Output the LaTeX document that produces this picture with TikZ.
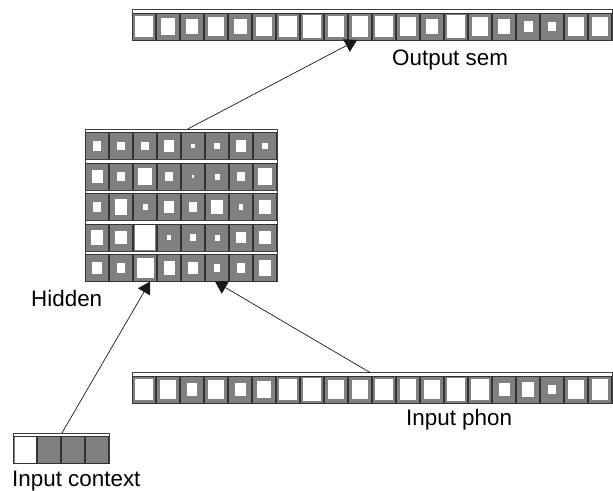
\documentclass[tikz,border=0pt]{standalone}
\usepackage{fontspec}
\setmainfont{Liberation Sans}
\usetikzlibrary{arrows.meta,calc}
\tikzset{
  barbox/.style={draw=black!75, line width=0.8pt, fill=white, inner sep=0pt, outer sep=0pt, minimum height=30.5pt, anchor=north west},
  cellbox/.style={draw=black!80, line width=0.8pt, fill=black!50, inner sep=0pt, outer sep=0pt, minimum width=22.5pt, minimum height=27pt, anchor=north west},
  conn/.style={draw=black!90, line width=0.7pt, -{Triangle[length=12pt,width=14pt]}},
  lbl/.style={font=\fontsize{22.4}{26}\selectfont, text=black, inner sep=0pt, anchor=base west},
}
\newcommand\cellrow[5]{%
  \node[barbox, minimum width=#4*24pt] (#1) at (#2,#3) {};
  \foreach \f [count=\i] in {#5}{%
    \node[cellbox] (#1-\i) at ({#2+0.75+(\i-1)*24},{#3+3.5}) {};
    \fill[white] ([shift={(-\f*10pt,-\f*12pt)}]#1-\i.center) rectangle ([shift={(\f*10pt,\f*12pt)}]#1-\i.center);
  }%
}
\begin{document}
\begin{tikzpicture}[x=1pt,y=-1pt]
\useasboundingbox (0,0) rectangle (613,490);
% output layer
\cellrow{outsem}{132}{9.5}{20}{0.87,0.74,0.6,0.82,0.65,0.8,0.87,0.92,0.84,0.84,0.89,0.82,0.62,0.92,0.82,0.6,0.45,0.4,0.82,0.82}
% hidden layer
\cellrow{h1}{85}{129}{8}{0.43,0.36,0.36,0.47,0.16,0.27,0.52,0.27}
\cellrow{h2}{85}{159.5}{8}{0.55,0.38,0.72,0.38,0.13,0.25,0.38,0.7}
\cellrow{h3}{85}{190}{8}{0.43,0.63,0.25,0.47,0.42,0.58,0.23,0.6}
\cellrow{h4}{85}{220.5}{8}{0.62,0.58,1.02,0.22,0.28,0.25,0.47,0.58}
\cellrow{h5}{85}{251}{8}{0.52,0.38,0.85,0.55,0.47,0.33,0.38,0.63}
% input phon
\cellrow{phon}{132}{372.5}{20}{0.9,0.77,0.52,0.77,0.55,0.74,0.87,0.92,0.77,0.82,0.9,0.84,0.8,0.92,0.9,0.55,0.6,0.38,0.82,0.84}
% input context
\cellrow{ctx}{13}{433}{4}{1.05,0,0,0}
% labels
\node[lbl] (lout) at (392,65.5) {Output sem};
\node[lbl] (lhid) at (31,306.5) {Hidden};
\node[lbl] (lphon) at (406,425) {Input phon};
\node[lbl] (lctx) at (12,486) {Input context};
% connectors
\draw[conn] ($(h1.north west)!0.535!(h1.north east)$) -- ($(outsem.south west)!0.469!(outsem.south east)$);
\draw[conn] ($(ctx.north west)!0.51!(ctx.north east)$) -- ($(h5.south west)!0.339!(h5.south east)$);
\draw[conn] ($(phon.north west)!0.496!(phon.north east)$) -- ($(h5.south west)!0.677!(h5.south east)$);
\end{tikzpicture}
\end{document}
